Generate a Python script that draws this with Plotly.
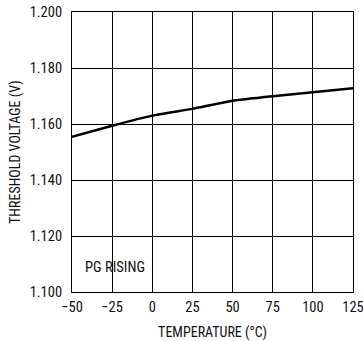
import plotly.graph_objects as go

# PG rising threshold voltage vs. temperature
temperature_c = [-50, -25, 0, 25, 50, 75, 100, 125]
threshold_v = [1.1554, 1.1594, 1.1630, 1.1654, 1.1683, 1.1699, 1.1713, 1.1728]

x_ticks = [-50, -25, 0, 25, 50, 75, 100, 125]
x_tick_text = ["\u221250", "\u221225", "0", "25", "50", "75", "100", "125"]
y_ticks = [1.100, 1.120, 1.140, 1.160, 1.180, 1.200]
y_tick_text = ["1.100", "1.120", "1.140", "1.160", "1.180", "1.200"]

FONT = "Roboto Condensed, DejaVu Sans Condensed, sans-serif"

fig = go.Figure()
fig.add_trace(go.Scatter(
    x=temperature_c, y=threshold_v, mode="lines",
    line=dict(color="black", width=2.5, shape="spline", smoothing=0.4),
    hoverinfo="skip", showlegend=False,
))

axis_common = dict(
    showgrid=True, gridcolor="black", gridwidth=1,
    showline=True, linecolor="black", linewidth=1, mirror=True,
    zeroline=False, ticks="", ticklabeloverflow="allow", automargin=False,
    tickfont=dict(family=FONT, size=14.5, color="#111"),
)

fig.update_xaxes(
    range=[-50, 125], tickvals=x_ticks, ticktext=x_tick_text,
    ticklabelstandoff=2,
    title=dict(text="TEMPERATURE (\u00b0C)", font=dict(family=FONT, size=14, color="#111")),
    **axis_common,
)
fig.update_yaxes(
    range=[1.100, 1.200], tickvals=y_ticks, ticktext=y_tick_text,
    ticklabelstandoff=6,
    **axis_common,
)

# vertical axis title placed as a rotated annotation left of the tick labels
fig.add_annotation(
    x=-0.203, y=0.5, xref="paper", yref="paper", text="THRESHOLD VOLTAGE (V)",
    textangle=-90, showarrow=False, xanchor="center", yanchor="middle",
    font=dict(family=FONT, size=14, color="#111"),
)

fig.add_annotation(
    x=-43.1, y=1.1086, xref="x", yref="y", text="PG RISING", showarrow=False,
    xanchor="left", yanchor="middle", font=dict(family=FONT, size=14.5, color="#111"),
)

fig.update_layout(
    width=363, height=341,
    margin=dict(l=72, r=10, t=12, b=49),
    paper_bgcolor="white", plot_bgcolor="white",
)

fig.write_html("out.html")
